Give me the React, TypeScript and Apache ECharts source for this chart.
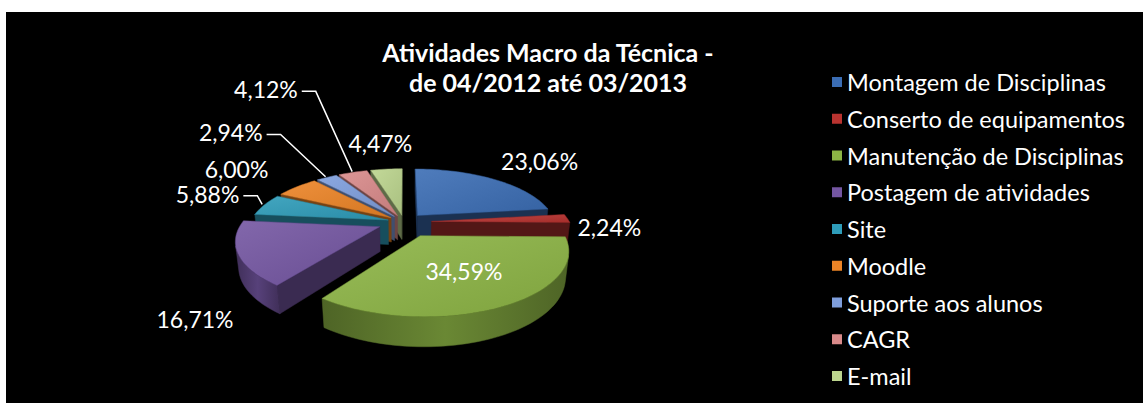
import React, { useEffect, useRef } from "react";
import * as echarts from "echarts";

// ---------- data ----------
const CATEGORIES = [
  "Montagem de Disciplinas",
  "Conserto de equipamentos",
  "Manutenção de Disciplinas",
  "Postagem de atividades",
  "Site",
  "Moodle",
  "Suporte aos alunos",
  "CAGR",
  "E-mail",
];
const PERCENTS = [23.06, 2.24, 34.59, 16.71, 5.88, 6.0, 2.94, 4.12, 4.47];
const TITLE_LINES = ["Atividades Macro da Técnica -", "de 04/2012 até 03/2013"];

// ---------- style ----------
const COLORS = ["#3b6db4", "#b93330", "#8db545", "#7456a2", "#2e9cb9", "#ec8426", "#7e9edc", "#d98a8a", "#bcd58e"];
const EXPLODE = [0.15, 0.2, 0.25, 0.19, 0.12, 0.12, 0.12, 0.12, 0.12];
const LABEL_OFFSET = [
  [46, -18], [42, 9], [-40, -35], [-43, 65], [-57, -11], [-60, -18], [-96, -45], [-87, -83], [-6, -26],
];
const LEADER = [false, false, false, false, true, false, true, true, false];
const FONT = "Lato, 'Open Sans', sans-serif";
const PIE = { cx: 404, cy: 222, scale: 138, tilt: 25, dist: 4.5, height: 0.2 };

const fmt = (v: number) => v.toFixed(2).replace(".", ",") + "%";

function shade(hex: string, f: number) {
  const n = parseInt(hex.slice(1), 16);
  const ch = [(n >> 16) & 255, (n >> 8) & 255, n & 255].map((c) => {
    const v = f <= 1 ? c * f : c + (255 - c) * (f - 1);
    return Math.max(0, Math.min(255, Math.round(v)));
  });
  return `rgb(${ch[0]},${ch[1]},${ch[2]})`;
}

const TOTAL = PERCENTS.reduce((a, b) => a + b, 0);
const STARTS: number[] = [];
const ENDS: number[] = [];
{
  let acc = 0;
  PERCENTS.forEach((v) => {
    STARTS.push((acc / TOTAL) * Math.PI * 2);
    acc += v;
    ENDS.push((acc / TOTAL) * Math.PI * 2);
  });
}
const MIDS = STARTS.map((s, i) => (s + ENDS[i]) / 2);
const ORDER = MIDS.map((m, i) => ({ i, key: -Math.cos(m) }))
  .sort((a, b) => a.key - b.key)
  .map((o) => o.i);
const RANK: number[] = [];
ORDER.forEach((idx, r) => (RANK[idx] = r));

const TILT = (PIE.tilt * Math.PI) / 180;
const SA = Math.sin(TILT);
const CA = Math.cos(TILT);
const CAM = [0, PIE.dist * CA];

function proj(X: number, Yf: number, H: number): number[] {
  const d = PIE.dist - Yf * CA - H * SA;
  const k = (PIE.scale * PIE.dist) / d;
  return [PIE.cx + X * k, PIE.cy + (Yf * SA - H * CA) * k];
}
function visible(px: number, py: number, nx: number, ny: number) {
  return nx * (CAM[0] - px) + ny * (CAM[1] - py) > 0;
}

function buildSlice(i: number, value: number) {
  const a0 = STARTS[i];
  const a1 = a0 + (value / TOTAL) * Math.PI * 2;
  const mid = (a0 + a1) / 2;
  const e = EXPLODE[i];
  const ox = e * Math.sin(mid);
  const oy = -e * Math.cos(mid);
  const h = -PIE.height;
  const base = RANK[i] * 10;
  const c = COLORS[i];
  const n = Math.max(2, Math.ceil((a1 - a0) / (Math.PI / 90)));
  const angs: number[] = [];
  for (let j = 0; j <= n; j++) angs.push(a0 + ((a1 - a0) * j) / n);
  const rim = (t: number, hh: number) => proj(ox + Math.sin(t), oy - Math.cos(t), hh);
  const children: any[] = [];

  // start radial face
  {
    const nx = -Math.cos(a0), ny = -Math.sin(a0);
    if (visible(ox + 0.5 * Math.sin(a0), oy - 0.5 * Math.cos(a0), nx, ny)) {
      children.push({
        type: "polygon",
        z2: base + 1,
        shape: { points: [proj(ox, oy, 0), rim(a0, 0), rim(a0, h), proj(ox, oy, h)] },
        style: { fill: shade(c, 0.5), stroke: shade(c, 0.5), lineWidth: 0.5 },
      });
    }
  }
  // end radial face
  {
    const nx = Math.cos(a1), ny = Math.sin(a1);
    if (visible(ox + 0.5 * Math.sin(a1), oy - 0.5 * Math.cos(a1), nx, ny)) {
      children.push({
        type: "polygon",
        z2: base + 1,
        shape: { points: [proj(ox, oy, 0), rim(a1, 0), rim(a1, h), proj(ox, oy, h)] },
        style: { fill: shade(c, 0.45), stroke: shade(c, 0.45), lineWidth: 0.5 },
      });
    }
  }
  // outer wall
  {
    const vis = angs.filter((t) => visible(ox + Math.sin(t), oy - Math.cos(t), Math.sin(t), -Math.cos(t)));
    if (vis.length >= 2) {
      const pts = vis.map((t) => rim(t, 0)).concat(vis.slice().reverse().map((t) => rim(t, h)));
      children.push({
        type: "polygon",
        z2: base + 2,
        shape: { points: pts },
        style: {
          fill: {
            type: "linear", x: 0, y: 0, x2: 1, y2: 0,
            colorStops: [
              { offset: 0, color: shade(c, 0.55) },
              { offset: 0.5, color: shade(c, 0.75) },
              { offset: 1, color: shade(c, 0.55) },
            ],
          },
          stroke: shade(c, 0.6),
          lineWidth: 0.5,
        },
      });
    }
  }
  // top face
  children.push({
    type: "polygon",
    z2: base + 3,
    shape: { points: [proj(ox, oy, 0)].concat(angs.map((t) => rim(t, 0))) },
    style: {
      fill: {
        type: "linear", x: 0, y: 0, x2: 1, y2: 1,
        colorStops: [
          { offset: 0, color: shade(c, 1.1) },
          { offset: 1, color: shade(c, 0.9) },
        ],
      },
      stroke: shade(c, 0.85),
      lineWidth: 0.5,
    },
  });

  // label
  const anchor = proj(ox + Math.sin(mid), oy - Math.cos(mid), 0);
  const lx = anchor[0] + LABEL_OFFSET[i][0];
  const ly = anchor[1] + LABEL_OFFSET[i][1];
  const text = fmt(value);
  children.push({
    type: "text",
    z2: 500,
    x: lx,
    y: ly,
    style: {
      text,
      fill: "#ffffff",
      fontSize: 23,
      fontFamily: FONT,
      align: "center",
      verticalAlign: "middle",
    },
  });
  if (LEADER[i]) {
    const w = (echarts.format as any).getTextRect
      ? (echarts.format as any).getTextRect(text, `23px ${FONT}`).width
      : 64;
    const sx = lx + w / 2 + 4;
    const tip = proj(ox + 1.02 * Math.sin(mid), oy - 1.02 * Math.cos(mid), 0);
    children.push({
      type: "polyline",
      z2: 499,
      shape: { points: [[sx, ly + 2], [sx + 14, ly + 2], tip] },
      style: { stroke: "#ffffff", lineWidth: 1.5, fill: null },
    });
  }
  return { type: "group", children };
}

export default function App() {
  const ref = useRef<HTMLDivElement>(null);
  useEffect(() => {
    document.body.style.margin = "0";
    if (!ref.current) return;
    const chart = echarts.init(ref.current, null, { renderer: "svg" });
    const series = CATEGORIES.map((name, i) => ({
      type: "custom",
      name,
      coordinateSystem: "none",
      itemStyle: { color: COLORS[i] },
      data: [[PERCENTS[i]]],
      renderItem: (_params: any, api: any) => buildSlice(i, api.value(0)),
    }));
    chart.setOption({
      animation: false,
      backgroundColor: "transparent",
      title: {
        text: TITLE_LINES.join("\n"),
        left: 548,
        top: 37,
        padding: 0,
        textAlign: "center",
        textStyle: { color: "#ffffff", fontSize: 25, fontWeight: "bold", fontFamily: FONT, lineHeight: 30 },
      },
      legend: {
        orient: "vertical",
        left: 832,
        top: 69,
        padding: 0,
        itemWidth: 10,
        itemHeight: 10,
        itemGap: 10.75,
        icon: "rect",
        selectedMode: false,
        data: CATEGORIES,
        textStyle: { color: "#ffffff", fontSize: 23.5, fontFamily: FONT, lineHeight: 26 },
      },
      series,
    } as any);
    return () => chart.dispose();
  }, []);
  return (
    <div style={{ position: "relative", width: 1143, height: 403, background: "#ffffff" }}>
      <div style={{ position: "absolute", left: 6, top: 12, right: 0, bottom: 0, background: "#000000" }} />
      <div ref={ref} style={{ position: "absolute", left: 0, top: 0, width: 1143, height: 403 }} />
    </div>
  );
}
